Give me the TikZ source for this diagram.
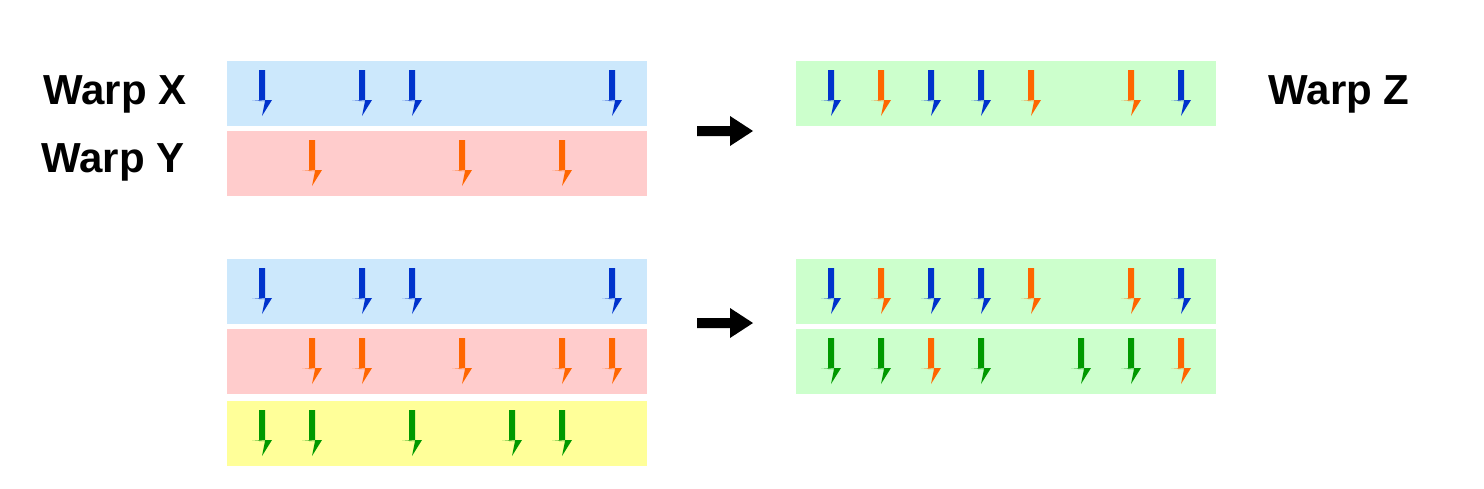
\documentclass[tikz,border=0pt]{standalone}
\usepackage{fontspec}
\setmainfont{Liberation Sans}
\definecolor{bb}{HTML}{CCE8FC}
\definecolor{rb}{HTML}{FFCCCC}
\definecolor{yb}{HTML}{FFFF99}
\definecolor{gb}{HTML}{CCFFCC}
\definecolor{B}{HTML}{0033CC}
\definecolor{O}{HTML}{FF6600}
\definecolor{G}{HTML}{009900}
\begin{document}
\begin{tikzpicture}[x=1pt,y=-1pt,
  lbl/.style={font=\fontsize{42}{50}\selectfont\bfseries,inner sep=0},
  bar/.style={draw=none,minimum width=420pt,minimum height=65pt,inner sep=0,anchor=north west}]
\useasboundingbox (0,0) rectangle (1484,488);
\newcommand\lane[4]{% bar top y, x0, lane, color
  \fill[#4] ({#2+50*#3-3},{#1+9}) rectangle ({#2+50*#3+3},{#1+40})
    -- ({#2+50*#3-10},{#1+39}) -- ({#2+50*#3+10},{#1+39}) -- ({#2+50*#3},{#1+55}) -- cycle;}
\newcommand\row[4]{% top, x0, list, color
  \foreach \k in {#3} {\lane{#1}{#2}{\k}{#4}}}
\node[bar,fill=bb] (r1) at (227,61) {};
\node[bar,fill=rb] (r2) at (227,131) {};
\node[bar,fill=gb] (z1) at (796,61) {};
\node[bar,fill=bb] (r3) at (227,259) {};
\node[bar,fill=rb] (r4) at (227,329) {};
\node[bar,fill=yb] (r5) at (227,401) {};
\node[bar,fill=gb] (z2) at (796,259) {};
\node[bar,fill=gb] (z3) at (796,329) {};
\row{61}{262}{0,2,3,7}{B}
\row{131}{262}{1,4,6}{O}
\row{61}{831}{0,2,3,7}{B}
\row{61}{831}{1,4,6}{O}
\row{259}{262}{0,2,3,7}{B}
\row{329}{262}{1,2,4,6,7}{O}
\row{401}{262}{0,1,3,5,6}{G}
\row{259}{831}{0,2,3,7}{B}
\row{259}{831}{1,4,6}{O}
\row{329}{831}{0,1,3,5,6}{G}
\row{329}{831}{2,7}{O}
\node[lbl] (wx) at (115,94) {Warp X};
\node[lbl] (wy) at (113,162) {Warp Y};
\node[lbl] (wz) at (1339,94) {Warp Z};
\foreach \y/\n in {131/a1,323/a2}{
  \fill[black] (697,\y-5) -- (730,\y-5) -- (730,\y-15) -- (753,\y) -- (730,\y+15) -- (730,\y+5) -- (697,\y+5) -- cycle;}
\end{tikzpicture}
\end{document}
